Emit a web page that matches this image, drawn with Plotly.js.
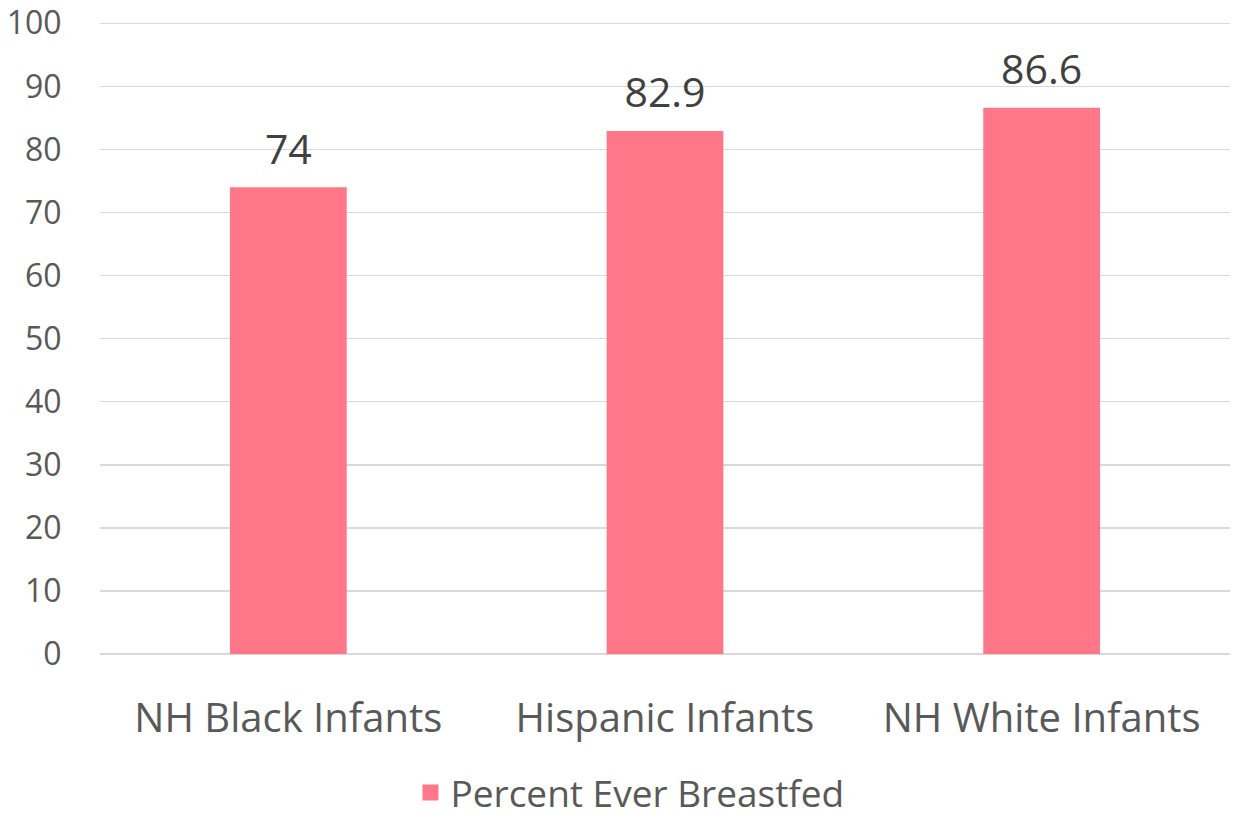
<!DOCTYPE html>
<html>
<head>
<meta charset="utf-8">
<script src="https://cdn.plot.ly/plotly-3.0.1.min.js"></script>
<style>html,body{margin:0;padding:0;background:#fff;}#chart{width:1233px;height:817px;}</style>
</head>
<body>
<div id="chart"></div>
<script>
const categories = ["NH Black Infants", "Hispanic Infants", "NH White Infants"];
const values = [74, 82.9, 86.6];
const seriesName = "Percent Ever Breastfed";
const yTicks = [0, 10, 20, 30, 40, 50, 60, 70, 80, 90, 100];

const FONT = '"Open Sans", "Noto Sans", sans-serif';
const BAR_COLOR = '#FF7789';

Plotly.newPlot('chart', [{
  type: 'bar',
  x: categories,
  y: values,
  name: seriesName,
  marker: {color: BAR_COLOR},
  hoverinfo: 'x+y',
  showlegend: false
}, {
  // data labels above bars
  type: 'scatter',
  mode: 'markers+text',
  x: categories,
  y: values,
  text: values.map(String),
  textposition: 'top center',
  textfont: {family: FONT, size: 41, color: '#404040'},
  marker: {size: 20, opacity: 0, color: BAR_COLOR},
  cliponaxis: false,
  showlegend: false,
  hoverinfo: 'skip'
}, {
  // legend entry
  type: 'scatter',
  mode: 'markers',
  x: [null], y: [null],
  name: seriesName,
  marker: {symbol: 'square', size: 24, color: BAR_COLOR},
  showlegend: true,
  hoverinfo: 'skip'
}], {
  width: 1233, height: 817,
  margin: {l: 100, r: 3, t: 22, b: 163, autoexpand: false},
  paper_bgcolor: '#fff', plot_bgcolor: '#fff',
  bargap: 0.69,
  font: {family: FONT, color: '#595959'},
  xaxis: {
    type: 'category',
    showgrid: false, zeroline: false, showline: false,
    ticks: 'outside', ticklen: 29, tickcolor: 'rgba(0,0,0,0)',
    tickfont: {size: 40, color: '#595959'}
  },
  yaxis: {
    range: [0, 100.2], tickvals: yTicks, ticktext: yTicks.map(String),
    showgrid: true, gridcolor: '#D9D9D9', gridwidth: 1.5,
    zeroline: true, zerolinecolor: '#D9D9D9', zerolinewidth: 1.5,
    showline: false,
    ticks: 'outside', ticklen: 31, tickcolor: 'rgba(0,0,0,0)',
    tickfont: {size: 32, color: '#595959'}
  },
  legend: {
    orientation: 'h', x: 0.469, xanchor: 'center', y: -0.22, yanchor: 'middle',
    itemsizing: 'trace',
    font: {size: 37, color: '#595959'}
  }
}, {displayModeBar: false, staticPlot: true});
</script>
</body>
</html>
